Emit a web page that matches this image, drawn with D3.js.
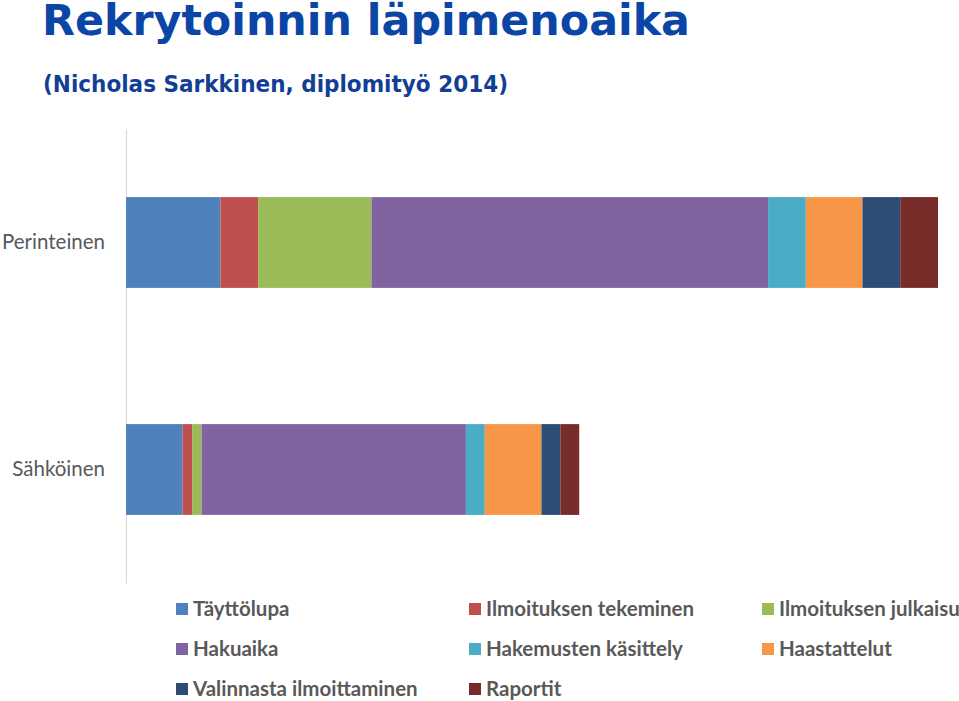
<!DOCTYPE html>
<html><head><meta charset="utf-8">
<script src="https://cdn.jsdelivr.net/npm/d3@7"></script>
<style>body{margin:0;background:#fff}svg{display:block}</style>
</head><body>
<script>
const categories = ["Perinteinen", "Sähköinen"];
const seriesNames = ["Täyttölupa","Ilmoituksen tekeminen","Ilmoituksen julkaisu","Hakuaika","Hakemusten käsittely","Haastattelut","Valinnasta ilmoittaminen","Raportit"];
const perinteinen = [5, 2, 6, 21, 2, 3, 2, 2];
const sahkoinen   = [3, 0.5, 0.5, 14, 1, 3, 1, 1];
const colors = ["#4f81bd","#c0504d","#9bbb59","#8064a2","#4bacc6","#f79646","#2c4d75","#772c2a"];

const W = 959, H = 701;
const svg = d3.select("body").append("svg").attr("width", W).attr("height", H);

// Title
svg.append("text").attr("x", 42).attr("y", 34.5)
  .attr("font-family", "DejaVu Sans").attr("font-weight", "bold").attr("font-size", 42)
  .attr("fill", "#0b45a6").attr("textLength", 648).attr("lengthAdjust", "spacingAndGlyphs")
  .text("Rekrytoinnin läpimenoaika");
svg.append("text").attr("x", 43).attr("y", 91.5)
  .attr("font-family", "DejaVu Sans").attr("font-weight", "bold").attr("font-size", 23.5)
  .attr("fill", "#123f95").attr("textLength", 465).attr("lengthAdjust", "spacingAndGlyphs")
  .text("(Nicholas Sarkkinen, diplomityö 2014)");

const valuesByCat = [perinteinen, sahkoinen];
const x = d3.scaleLinear().domain([0, 43]).range([126, 938]);
const y = d3.scaleBand().domain(categories).range([129, 583]).paddingInner(0.6).paddingOuter(0.3);

// axis line
const yAxis = d3.axisLeft(y).tickSize(0).tickPadding(21);
const gA = svg.append("g").attr("transform", `translate(${x(0)},0)`).call(yAxis);
gA.select(".domain").attr("stroke", "#d9d9d9").attr("stroke-width", 1.2);
gA.selectAll("text").attr("font-family", "Lato").attr("font-size", 20.5).attr("fill", "#595959");

// stacked data
const rows = categories.map((c, i) => {
  const o = {cat: c};
  seriesNames.forEach((s, j) => o[s] = valuesByCat[i][j]);
  return o;
});
const stacked = d3.stack().keys(seriesNames)(rows);

svg.append("g").selectAll("g").data(stacked).join("g")
  .attr("fill", (d, i) => colors[i])
  .selectAll("rect").data(d => d).join("rect")
  .attr("x", d => x(d[0]))
  .attr("width", d => x(d[1]) - x(d[0]))
  .attr("y", d => y(d.data.cat))
  .attr("height", y.bandwidth());

// legend
const lg = svg.append("g");
const colX = [176, 469, 762];
const rowY = [609, 649, 689];
seriesNames.forEach((s, i) => {
  const cx = colX[i % 3], cy = rowY[Math.floor(i / 3)];
  lg.append("rect").attr("x", cx).attr("y", cy - 6).attr("width", 12).attr("height", 12).attr("fill", colors[i]);
  lg.append("text").attr("x", cx + 17).attr("y", cy + 7)
    .attr("font-family", "Lato").attr("font-weight", "bold").attr("font-size", 20.5)
    .attr("fill", "#595959").text(s);
});
</script>
</body></html>
